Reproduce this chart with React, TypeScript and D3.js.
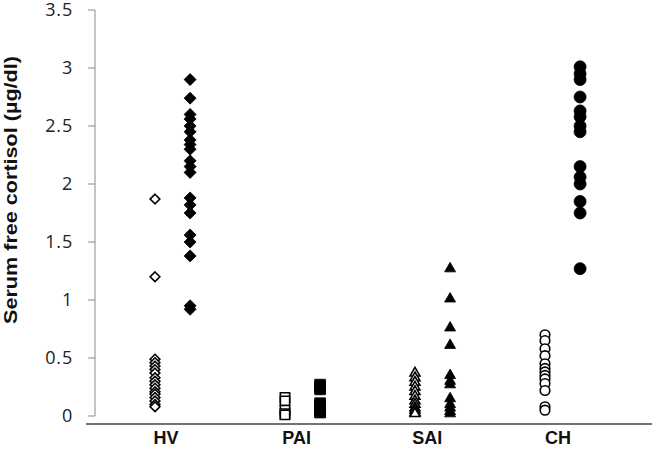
import React from "react";
import * as d3 from "d3";

// Groups and their tick labels
const categories = ["HV", "PAI", "SAI", "CH"];
const yTicks = [0, 0.5, 1, 1.5, 2, 2.5, 3, 3.5];

// Serum free cortisol (µg/dl), open = first sample, filled = second sample
const hvOpen = [1.87, 1.2, 0.49, 0.46, 0.43, 0.4, 0.37, 0.33, 0.3, 0.27, 0.24, 0.21, 0.19, 0.16, 0.13, 0.1, 0.08];
const hvFilled = [2.9, 2.74, 2.6, 2.56, 2.5, 2.45, 2.38, 2.34, 2.3, 2.2, 2.15, 2.1, 1.88, 1.82, 1.75, 1.56, 1.5, 1.38, 0.95, 0.92];
const paiOpen = [0.16, 0.13, 0.05, 0.02, 0.01];
const paiFilled = [0.27, 0.25, 0.23, 0.11, 0.09, 0.06, 0.04, 0.03];
const saiOpen = [0.37, 0.33, 0.29, 0.25, 0.21, 0.17, 0.13, 0.1, 0.07, 0.05, 0.03, 0.02];
const saiFilled = [1.27, 1.01, 0.76, 0.61, 0.35, 0.3, 0.27, 0.15, 0.1, 0.07, 0.04, 0.02];
const chOpen = [0.7, 0.65, 0.58, 0.52, 0.45, 0.41, 0.38, 0.35, 0.32, 0.28, 0.22, 0.08, 0.05];
const chFilled = [3.01, 2.95, 2.9, 2.75, 2.63, 2.58, 2.5, 2.45, 2.15, 2.06, 2.0, 1.85, 1.75, 1.27];

const series = [
  { group: 0, offset: 0, values: hvOpen, shape: d3.symbolDiamond2, size: 60, filled: false },
  { group: 0, offset: 0.27, values: hvFilled, shape: d3.symbolDiamond2, size: 92, filled: true },
  { group: 1, offset: 0, values: paiOpen, shape: d3.symbolSquare2, size: 110, filled: false },
  { group: 1, offset: 0.27, values: paiFilled, shape: d3.symbolSquare2, size: 150, filled: true },
  { group: 2, offset: 0, values: saiOpen, shape: d3.symbolTriangle2, size: 70, filled: false },
  { group: 2, offset: 0.27, values: saiFilled, shape: d3.symbolTriangle2, size: 86, filled: true },
  { group: 3, offset: 0, values: chOpen, shape: d3.symbolCircle, size: 72, filled: false },
  { group: 3, offset: 0.27, values: chFilled, shape: d3.symbolCircle, size: 113, filled: true },
];

export default function App() {
  const width = 656;
  const height = 453;
  const axisX = 95;

  const y = d3.scaleLinear().domain([0, 3.5]).range([416, 10]);
  const x = d3.scaleLinear().domain([0, 3]).range([155, 545]);
  const labelX = d3.scalePoint().domain(categories).range([166, 558]);

  return (
    <svg
      width={width}
      height={height}
      style={{ position: "absolute", left: 0, top: 0, background: "#fff" }}
    >
      {/* y axis */}
      <line x1={axisX} x2={axisX} y1={y(3.5)} y2={y(0)} stroke="#8c8c8c" strokeWidth={1} />
      {yTicks.map((t) => (
        <g key={t} transform={`translate(0,${y(t)})`}>
          <line x1={axisX - 7} x2={axisX} stroke="#8c8c8c" strokeWidth={1} />
          <text
            x={axisX - 22}
            dy="0.36em"
            textAnchor="end"
            fontFamily="'Open Sans', sans-serif"
            fontSize={18}
            letterSpacing={0.8}
            fill="#222"
          >
            {t}
          </text>
        </g>
      ))}

      {/* x axis line */}
      <line x1={86} x2={652} y1={424} y2={424} stroke="#444" strokeWidth={1.5} />
      {categories.map((c) => (
        <text
          key={c}
          x={labelX(c)}
          y={444}
          textAnchor="middle"
          fontFamily="'Liberation Sans', Arial, sans-serif"
          fontWeight="bold"
          fontSize={18}
          fill="#111"
        >
          {c}
        </text>
      ))}

      <text
        transform={`translate(17,190) rotate(-90)`}
        textAnchor="middle"
        fontFamily="'Liberation Sans', Arial, sans-serif"
        fontWeight="bold"
        fontSize={18}
        textLength={268}
        lengthAdjust="spacingAndGlyphs"
        fill="#111"
      >
        Serum free cortisol (µg/dl)
      </text>

      {/* points */}
      {series.map((s, si) => {
        const path = d3.symbol().type(s.shape).size(s.size)();
        return (
          <g key={si}>
            {s.values.map((v, i) => (
              <path
                key={i}
                d={path || ""}
                transform={`translate(${x(s.group + s.offset)},${y(v)})`}
                fill={s.filled ? "#000" : "#fff"}
                stroke="#000"
                strokeWidth={s.filled ? 0.8 : 1.6}
              />
            ))}
          </g>
        );
      })}
    </svg>
  );
}
